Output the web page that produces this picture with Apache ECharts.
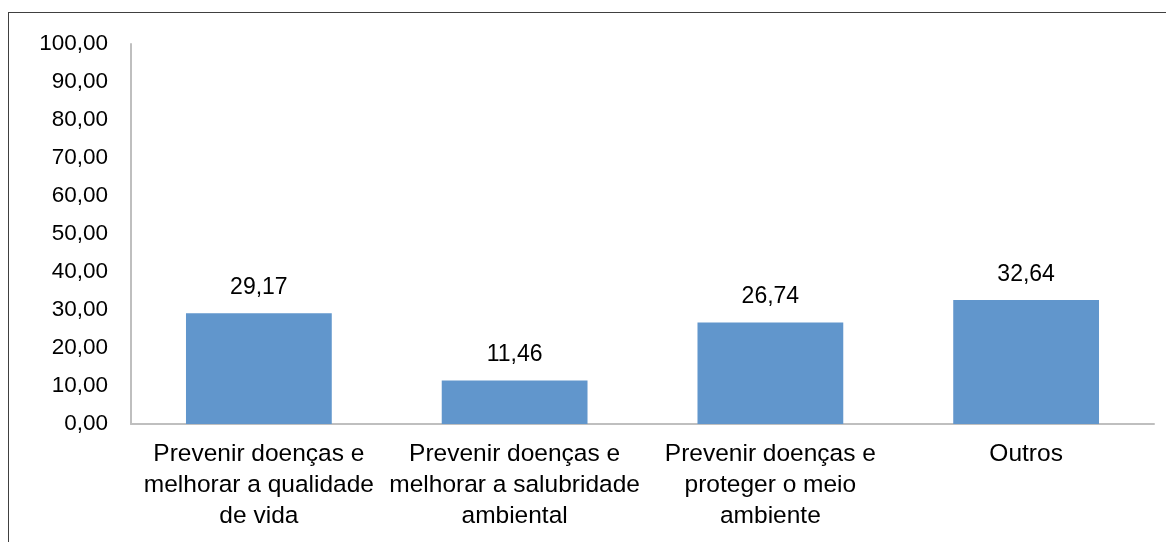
<!DOCTYPE html>
<html>
<head>
<meta charset="utf-8">
<script src="https://cdn.jsdelivr.net/npm/echarts@6/dist/echarts.min.js"></script>
<style>
  html, body { margin: 0; padding: 0; background: #fff; }
  #frame { position: absolute; left: 8px; top: 12px; width: 1170px; height: 560px; border: 1px solid #404040; box-sizing: border-box; }
  #chart { position: absolute; left: 0; top: 0; width: 1166px; height: 542px; }
</style>
</head>
<body>
<div id="frame"></div>
<div id="chart"></div>
<script>
const categories = [
  'Prevenir doenças e\nmelhorar a qualidade\nde vida',
  'Prevenir doenças e\nmelhorar a salubridade\nambiental',
  'Prevenir doenças e\nproteger o meio\nambiente',
  'Outros'
];
const values = [29.17, 11.46, 26.74, 32.64];
const yMin = 0, yMax = 100, yStep = 10;

const fmt = v => Number(v).toFixed(2).replace('.', ',');
const FONT = 'Liberation Sans, Arial, sans-serif';

const chart = echarts.init(document.getElementById('chart'));
chart.setOption({
  animation: false,
  grid: { left: 131, right: 12, top: 44, bottom: 118, containLabel: false },
  xAxis: {
    type: 'category',
    data: categories,
    axisLine: { lineStyle: { color: '#BFBFBF', width: 2 } },
    axisTick: { show: false },
    axisLabel: {
      interval: 0,
      color: '#000',
      fontFamily: FONT,
      fontSize: 24.5,
      lineHeight: 31,
      margin: 15
    }
  },
  yAxis: {
    type: 'value',
    min: yMin, max: yMax, interval: yStep,
    axisLine: { show: true, lineStyle: { color: '#BFBFBF', width: 2 } },
    axisTick: { show: false },
    splitLine: { show: false },
    axisLabel: {
      formatter: fmt,
      color: '#000',
      fontFamily: FONT,
      fontSize: 22.5,
      margin: 23
    }
  },
  series: [{
    type: 'bar',
    data: values,
    barCategoryGap: '43%',
    itemStyle: { color: '#6196CC' },
    label: {
      show: true,
      position: 'top',
      distance: 14,
      formatter: p => fmt(p.value),
      color: '#000',
      fontFamily: FONT,
      fontSize: 23
    }
  }]
});
</script>
</body>
</html>
